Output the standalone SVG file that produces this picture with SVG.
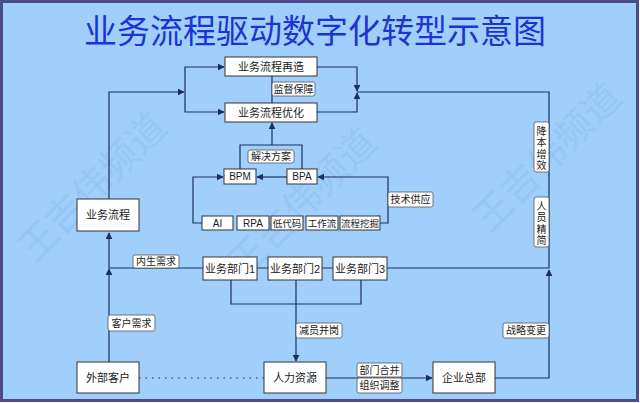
<svg xmlns="http://www.w3.org/2000/svg" width="640" height="403" viewBox="0 0 640 403">
<defs>
<marker id="arr" viewBox="0 0 10 10" refX="9" refY="5" markerWidth="7" markerHeight="7" markerUnits="userSpaceOnUse" orient="auto">
<path d="M0,0 L10,5 L0,10 z" fill="#1c2f5e"/>
</marker>
<style>
.bg{fill:#a0cffb;stroke:#4a4d8a;stroke-width:3}
.box{fill:#ffffff;stroke:#333333;stroke-width:1}
.lbl{fill:#ffffff;stroke:#555555;stroke-width:0.8}
.t{font-family:"Liberation Sans","Noto Sans CJK SC",sans-serif;font-size:11px;fill:#222222;text-anchor:middle;dominant-baseline:central}
.s{font-family:"Liberation Sans","Noto Sans CJK SC",sans-serif;font-size:10px;fill:#222222;text-anchor:middle;dominant-baseline:central}
.k{font-family:"Liberation Sans","Noto Sans CJK SC",sans-serif;font-size:9.5px;fill:#222222;text-anchor:middle;dominant-baseline:central}
.ln{fill:none;stroke:#1c2f5e;stroke-width:1.2}
.wm{font-family:"Noto Sans CJK SC",sans-serif;font-size:38px;fill:#3b78c4;opacity:0.09;text-anchor:middle;dominant-baseline:central}
.title{font-family:"Noto Sans CJK SC",sans-serif;font-size:33px;fill:#1f33d2;text-anchor:middle}
</style>
</defs>
<rect class="bg" x="1.5" y="1.5" width="636" height="399"/>
<g id="watermark">
<text class="wm" transform="translate(300,200) rotate(-45)">王吉伟频道</text>
<text class="wm" transform="translate(545,155) rotate(-45)">王吉伟频道</text>
<text class="wm" transform="translate(90,185) rotate(-45)">王吉伟频道</text>
</g>
<text id="title" class="title" x="315" y="43">业务流程驱动数字化转型示意图</text>
<g id="connectors">
<path class="ln" d="M109,199 V92 H184" marker-end="url(#arr)"/>
<path class="ln" d="M185,92 V67 H224" marker-end="url(#arr)"/>
<path class="ln" d="M185,92 V112 H224" marker-end="url(#arr)"/>
<path class="ln" d="M317,67 H357 V91" marker-end="url(#arr)"/>
<path class="ln" d="M317,112 H357 V93" marker-end="url(#arr)"/>
<path class="ln" d="M272,76 V103"/>
<path class="ln" d="M240,169 V145 H302 V169"/>
<path class="ln" d="M272,145 V123" marker-end="url(#arr)"/>
<path class="ln" d="M287,177 H257" marker-end="url(#arr)"/>
<path class="ln" d="M202,223 H193 V177 H223" marker-end="url(#arr)"/>
<path class="ln" d="M380,223 H388 V177 H318" marker-end="url(#arr)"/>
<path class="ln" d="M203,268 H109 V233" marker-end="url(#arr)"/>
<path class="ln" d="M109,362 V269" marker-end="url(#arr)"/>
<path class="ln" d="M257,268 H268 M322,268 H333"/>
<path class="ln" d="M231,280 V304 H361 V280 M296,280 V304"/>
<path class="ln" d="M296,304 V361" marker-end="url(#arr)"/>
<path class="ln" d="M139,378 H264" stroke-dasharray="1.5,5"/>
<path class="ln" d="M326,378 H432" marker-end="url(#arr)"/>
<path class="ln" d="M495,378 H549 V270" marker-end="url(#arr)"/>
<path class="ln" d="M387,268 H549 V92 H357"/>
</g>
<g id="n-zaizao"><rect class="box" x="225" y="57" width="92" height="19"/><text class="t" x="271" y="66.5">业务流程再造</text></g>
<g id="n-youhua"><rect class="box" x="225" y="103" width="92" height="19"/><text class="t" x="271" y="112.5">业务流程优化</text></g>
<g id="n-bpm"><rect class="box" x="224" y="169" width="32" height="15"/><text class="s" x="240" y="176.5">BPM</text></g>
<g id="n-bpa"><rect class="box" x="287" y="169" width="30" height="15"/><text class="s" x="302" y="176.5">BPA</text></g>
<g id="n-ai"><rect class="box" x="202" y="216" width="31" height="14"/><text class="s" x="217.5" y="223">AI</text></g>
<g id="n-rpa"><rect class="box" x="237" y="216" width="32" height="14"/><text class="s" x="253" y="223">RPA</text></g>
<g id="n-ldm"><rect class="box" x="271" y="216" width="32" height="14"/><text class="k" x="287" y="223">低代码</text></g>
<g id="n-gzl"><rect class="box" x="306" y="216" width="32" height="14"/><text class="k" x="322" y="223">工作流</text></g>
<g id="n-lcwj"><rect class="box" x="340" y="216" width="40" height="14"/><text class="k" x="360" y="223">流程挖掘</text></g>
<g id="n-ywlc"><rect class="box" x="77" y="199" width="62" height="32"/><text class="t" x="108" y="215">业务流程</text></g>
<g id="n-bm1"><rect class="box" x="203" y="257" width="54" height="23"/><text class="t" x="230" y="268.5">业务部门1</text></g>
<g id="n-bm2"><rect class="box" x="268" y="257" width="54" height="23"/><text class="t" x="295" y="268.5">业务部门2</text></g>
<g id="n-bm3"><rect class="box" x="333" y="257" width="54" height="23"/><text class="t" x="360" y="268.5">业务部门3</text></g>
<g id="n-wbkh"><rect class="box" x="77" y="362" width="62" height="31"/><text class="t" x="108" y="377.5">外部客户</text></g>
<g id="n-rlzy"><rect class="box" x="264" y="362" width="62" height="31"/><text class="t" x="295" y="377.5">人力资源</text></g>
<g id="n-qyzb"><rect class="box" x="433" y="362" width="62" height="31"/><text class="t" x="464" y="377.5">企业总部</text></g>
<g id="labels">
<rect class="lbl" x="272" y="82" width="43" height="14" rx="2"/><text class="s" x="293.5" y="89">监督保障</text>
<rect class="lbl" x="248" y="150" width="46" height="13" rx="2"/><text class="s" x="271" y="156.5">解决方案</text>
<rect class="lbl" x="388" y="192" width="45" height="15" rx="2"/><text class="s" x="410.5" y="199.5">技术供应</text>
<rect class="lbl" x="133" y="255" width="46" height="13" rx="2"/><text class="s" x="156" y="261.5">内生需求</text>
<rect class="lbl" x="108" y="315" width="47" height="16" rx="2"/><text class="s" x="131.5" y="323">客户需求</text>
<rect class="lbl" x="296" y="323" width="46" height="15" rx="2"/><text class="s" x="319" y="330.5">减员并岗</text>
<rect class="lbl" x="357" y="363" width="45" height="14" rx="2"/><text class="s" x="379.5" y="370">部门合并</text>
<rect class="lbl" x="357" y="378" width="45" height="15" rx="2"/><text class="s" x="379.5" y="385.5">组织调整</text>
<rect class="lbl" x="503" y="323" width="46" height="15" rx="2"/><text class="s" x="526" y="330.5">战略变更</text>
<rect class="lbl" x="534" y="122" width="15" height="50" rx="2"/>
<text class="s" x="541.5" y="131">降</text><text class="s" x="541.5" y="142.5">本</text><text class="s" x="541.5" y="154">增</text><text class="s" x="541.5" y="165">效</text>
<rect class="lbl" x="534" y="197" width="15" height="50" rx="2"/>
<text class="s" x="541.5" y="206">人</text><text class="s" x="541.5" y="217.5">员</text><text class="s" x="541.5" y="229">精</text><text class="s" x="541.5" y="240">简</text>
</g>
</svg>
